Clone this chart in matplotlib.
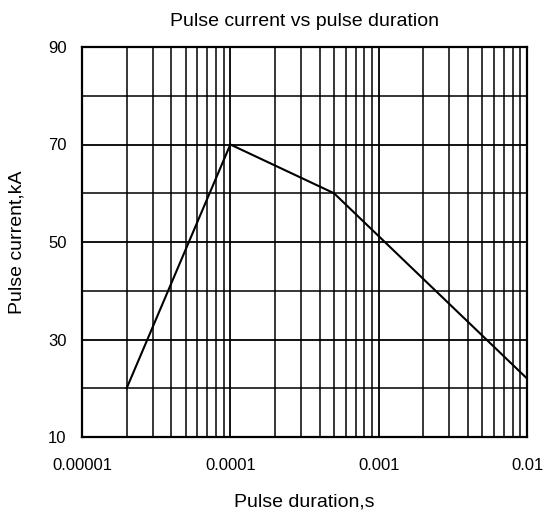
import matplotlib
matplotlib.use("Agg")
import matplotlib.pyplot as plt
from matplotlib.ticker import LogLocator, FixedLocator, NullFormatter, FixedFormatter

plt.rcParams['font.family'] = ['Liberation Sans', 'DejaVu Sans']

duration = [2e-5, 1e-4, 5e-4, 1e-2]
current = [20, 70, 60, 22]
x_ticks = [1e-5, 1e-4, 1e-3, 1e-2]
x_tick_labels = ["0.00001", "0.0001", "0.001", "0.01"]
y_ticks = [10, 30, 50, 70, 90]
y_grid = [10, 20, 30, 40, 50, 60, 70, 80, 90]

fig = plt.figure(figsize=(5.44, 5.17), dpi=100)
ax = fig.add_axes([82/544, 1-437/517, (527-82)/544, (437-47)/517])
ax.set_xscale('log')
ax.set_xlim(1e-5, 1e-2)
ax.set_ylim(10, 90)

ax.xaxis.set_major_locator(FixedLocator(x_ticks))
ax.xaxis.set_major_formatter(FixedFormatter(x_tick_labels))
ax.xaxis.set_minor_locator(LogLocator(base=10, subs=range(2, 10)))
ax.xaxis.set_minor_formatter(NullFormatter())
ax.yaxis.set_major_locator(FixedLocator(y_ticks))
ax.yaxis.set_minor_locator(FixedLocator(y_grid))

ax.grid(True, which='major', axis='both', color='black', linewidth=1.3)
ax.grid(True, which='minor', axis='both', color='black', linewidth=1.1)
ax.tick_params(which='both', length=0, labelsize=12)
ax.tick_params(axis='x', pad=15)
ax.tick_params(axis='y', pad=11)
for s in ax.spines.values():
    s.set_color('black')
    s.set_linewidth(1.6)

ax.plot(duration, current, color='black', linewidth=1.5, zorder=3)

ax.set_title("Pulse current vs pulse duration", fontsize=14, pad=15)
ax.set_xlabel("Pulse duration,s", fontsize=14, labelpad=15)
ax.set_ylabel("Pulse current,kA", fontsize=14, labelpad=16)

fig.savefig("out.png", dpi=100)
